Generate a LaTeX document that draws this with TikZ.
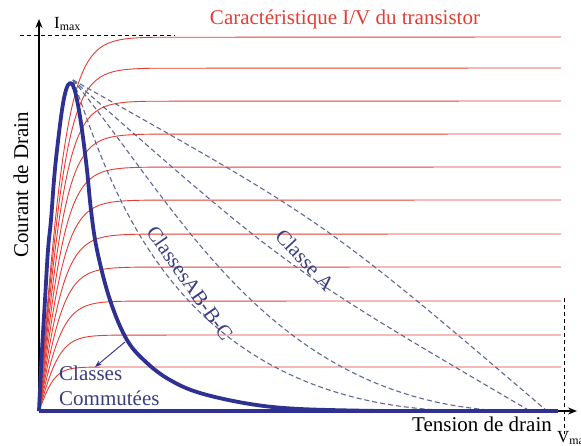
\documentclass[tikz,border=0pt]{standalone}
\usepackage{fontspec}
\setmainfont{Liberation Serif}
\usetikzlibrary{arrows.meta}

\definecolor{ivred}{RGB}{226,62,52}
\definecolor{navy}{RGB}{46,48,146}
\definecolor{loadgray}{RGB}{95,105,150}
\definecolor{labelblue}{RGB}{58,62,128}

\begin{document}
\begin{tikzpicture}[x=1pt,y=-1pt,
  ivline/.style={ivred, line width=0.9pt},
  loadline/.style={loadgray, line width=1.1pt, dash pattern=on 5pt off 3pt},
  limit/.style={black, line width=0.7pt, dash pattern=on 4pt off 3pt},
  classtext/.style={labelblue, font=\fontsize{21}{25}\selectfont},
  axistext/.style={black, font=\fontsize{21}{25}\selectfont},
  declare function={sat(\u)=1-2/(exp(2*min(\u,4))+1);}]
\useasboundingbox (0,0) rectangle (581,446);
\fill[white] (0,0) rectangle (581,446);

\draw[ivline] plot[domain=0:120,samples=60] ({39+\x},{411-374*sat(\x/29)}) -- (561,37);
\draw[ivline] plot[domain=0:120,samples=60] ({39+\x},{411-343*sat(\x/28.5)}) -- (561,68);
\draw[ivline] plot[domain=0:120,samples=60] ({39+\x},{411-310*sat(\x/28)}) -- (561,101);
\draw[ivline] plot[domain=0:120,samples=60] ({39+\x},{411-277*sat(\x/27.9)}) -- (561,134);
\draw[ivline] plot[domain=0:120,samples=60] ({39+\x},{411-244*sat(\x/27.8)}) -- (561,167);
\draw[ivline] plot[domain=0:120,samples=60] ({39+\x},{411-211*sat(\x/27.6)}) -- (561,200);
\draw[ivline] plot[domain=0:120,samples=60] ({39+\x},{411-177*sat(\x/27.2)}) -- (561,234);
\draw[ivline] plot[domain=0:120,samples=60] ({39+\x},{411-144*sat(\x/26.4)}) -- (561,267);
\draw[ivline] plot[domain=0:120,samples=60] ({39+\x},{411-110*sat(\x/24.9)}) -- (561,301);
\draw[ivline] plot[domain=0:120,samples=60] ({39+\x},{411-76*sat(\x/21.9)}) -- (561,335);
\draw[ivline] plot[domain=0:120,samples=60] ({39+\x},{411-44*sat(\x/16.4)}) -- (561,367);

\draw[limit] (20,35) -- (175,35);
\draw[limit] (564,298) -- (564,434);

\coordinate (P) at (73,80);
\coordinate (endA1) at (547,411);
\coordinate (endA2) at (530,411);
\coordinate (endB1) at (505,411);
\coordinate (endB2) at (470,411);
\draw[loadline] (P) .. controls (326,222) .. (endA1);
\draw[loadline] (P) .. controls (286,268) .. (endA2);
\draw[loadline] (P) .. controls (180,210) and (270,400) .. (endB1);
\draw[loadline] (P) .. controls (110,180) and (170,410) .. (endB2);

\coordinate (O) at (39,411);
\coordinate (ytop) at (39,19);
\coordinate (xend) at (577,411);
\draw[line width=1.6pt, -{Stealth[length=9pt,width=7pt]}] (O) -- (ytop);
\draw[line width=1.6pt, -{Stealth[length=9pt,width=7pt]}] (O) -- (xend);

\draw[navy, line width=3.8pt, line join=round] plot[smooth, tension=0.6] coordinates {
  (39,411) (40,390) (42,350) (45,300) (48,250) (51,220) (54,180) (57,150)
  (62,110) (66,90) (70,83) (74,88) (78,105) (82,130) (87,170) (91,210)
  (97,250) (110,300) (127,340) (147,363) (170,380) (200,393) (250,404)
  (300,409) (380,411)};
\draw[navy, line width=3.8pt] (O) -- (558,411);

\node[ivred, font=\fontsize{21}{25}\selectfont] (title) at (345,19) {Caractéristique I/V du transistor};
\node[axistext, rotate=90] (ylab) at (21,185) {Courant de Drain};
\node[axistext] (xlab) at (482,424) {Tension de drain};
\node[anchor=west, inner sep=0pt, font=\fontsize{17}{20}\selectfont] (imax) at (54,24) {I\textsubscript{max}};
\node[anchor=west, inner sep=0pt, font=\fontsize{17}{20}\selectfont] (vmax) at (557,438) {V\textsubscript{max}};

\node[classtext, rotate=-47] (clA) at (305,260) {Classe A};
\node[classtext, rotate=-55] (clB) at (190,283) {ClassesAB-B-C};
\node[classtext, anchor=north west, align=left, inner sep=0pt] (comm) at (59,366) {Classes\\Commutées};
\coordinate (cmfrom) at (125,342);
\coordinate (cmto) at (95,367);
\draw[navy, line width=0.9pt, -{Stealth[length=7pt,width=5pt]}] (cmfrom) -- (cmto);
\end{tikzpicture}
\end{document}
